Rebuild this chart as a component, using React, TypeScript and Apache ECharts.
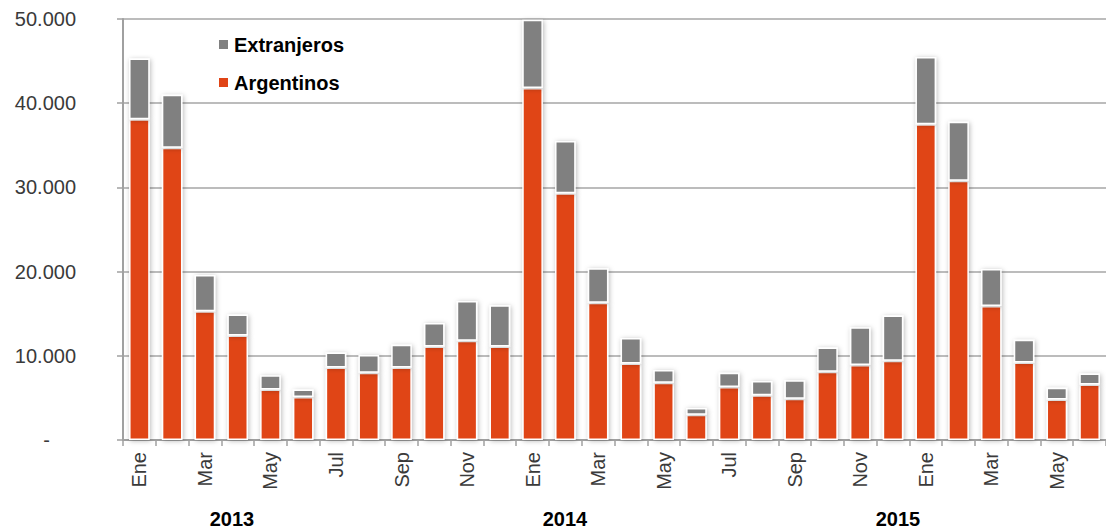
import React, { useEffect, useRef } from "react";
import * as echarts from "echarts";

const categories = [
  "2013-Ene", "2013-Feb", "2013-Mar", "2013-Abr", "2013-May", "2013-Jun",
  "2013-Jul", "2013-Ago", "2013-Sep", "2013-Oct", "2013-Nov", "2013-Dic",
  "2014-Ene", "2014-Feb", "2014-Mar", "2014-Abr", "2014-May", "2014-Jun",
  "2014-Jul", "2014-Ago", "2014-Sep", "2014-Oct", "2014-Nov", "2014-Dic",
  "2015-Ene", "2015-Feb", "2015-Mar", "2015-Abr", "2015-May", "2015-Jun",
];

const argentinos = [
  38100, 34700, 15300, 12400, 6000, 5100, 8600, 8000, 8600, 11100, 11800, 11100,
  41800, 29300, 16300, 9100, 6800, 3000, 6300, 5300, 4900, 8100, 8900, 9400,
  37500, 30800, 15900, 9200, 4800, 6600,
];

const extranjeros = [
  7200, 6300, 4300, 2500, 1700, 900, 1800, 2100, 2700, 2800, 4700, 4900,
  8100, 6200, 4100, 3000, 1500, 800, 1700, 1700, 2200, 2900, 4500, 5400,
  8000, 7000, 4400, 2700, 1400, 1300,
];

const yearLabels = ["2013", "2014", "2015"];
const yearLabelX = [232, 565, 898];

const RED = "#E04416";
const GRAY = "#808080";
const FONT = "Liberation Sans, Arial, sans-serif";

export default function App() {
  const ref = useRef<HTMLDivElement>(null);

  useEffect(() => {
    if (!ref.current) return;
    const chart = echarts.init(ref.current, null, { renderer: "svg" });
    const barStyle = (color: string) => ({
      color,
      borderColor: "#ffffff",
      borderWidth: 1.5,
      shadowBlur: 5,
      shadowColor: "rgba(0,0,0,0.28)",
      shadowOffsetX: 1,
      shadowOffsetY: 1,
    });
    chart.setOption({
      animation: false,
      backgroundColor: "#ffffff",
      textStyle: { fontFamily: FONT },
      grid: { left: 123, right: 0, top: 19, bottom: 91, containLabel: false },
      legend: {
        data: ["Extranjeros", "Argentinos"],
        orient: "vertical",
        left: 212,
        top: 29,
        itemWidth: 11,
        itemHeight: 11,
        itemGap: 17,
        icon: "rect",
        textStyle: {
          fontFamily: FONT,
          fontSize: 20,
          fontWeight: "bold",
          color: "#000000",
          lineHeight: 21,
        },
      },
      xAxis: [
        {
          type: "category",
          data: categories,
          boundaryGap: true,
          axisLine: { show: true, lineStyle: { color: "#a0a0a0", width: 2 } },
          axisTick: { show: true, length: 6, interval: 0, lineStyle: { color: "#a0a0a0", width: 1.5 } },
          axisLabel: {
            interval: 1,
            rotate: 90,
            margin: 12,
            fontFamily: FONT,
            fontSize: 20,
            color: "#3a3a3a",
            formatter: (v: string) => v.split("-")[1],
          },
        },
        {
          type: "category",
          data: categories,
          position: "bottom",
          axisLine: { show: false },
          axisTick: {
            show: true,
            inside: true,
            alignWithLabel: true,
            interval: 0,
            length: 4,
            lineStyle: { color: "#a0a0a0", width: 1.5 },
          },
          axisLabel: { show: false },
        },
      ],
      yAxis: {
        type: "value",
        min: 0,
        max: 50000,
        interval: 10000,
        axisLine: { show: true, lineStyle: { color: "#a0a0a0", width: 2 } },
        axisTick: { show: true, length: 6, lineStyle: { color: "#a0a0a0", width: 1.5 } },
        splitLine: { show: true, lineStyle: { color: "#a6a6a6", width: 1.5 } },
        axisLabel: {
          margin: 47,
          fontFamily: FONT,
          fontSize: 20,
          color: "#3a3a3a",
          formatter: (v: number) =>
            v === 0 ? "{d|-}" : v.toLocaleString("de-DE"),
          rich: {
            d: { fontFamily: FONT, fontSize: 20, color: "#3a3a3a", padding: [0, 26, 0, 0] },
          },
        },
      },
      series: [
        {
          name: "Argentinos",
          type: "bar",
          stack: "total",
          barWidth: "63%",
          data: argentinos,
          itemStyle: barStyle(RED),
        },
        {
          name: "Extranjeros",
          type: "bar",
          stack: "total",
          barWidth: "63%",
          data: extranjeros,
          itemStyle: barStyle(GRAY),
        },
      ],
      graphic: yearLabels.map((t, i) => ({
        type: "text",
        x: yearLabelX[i],
        y: 519,
        style: {
          text: t,
          fontFamily: FONT,
          fontSize: 20,
          fontWeight: "bold",
          fill: "#000000",
          align: "center",
          verticalAlign: "middle",
        },
      })),
    });
    return () => chart.dispose();
  }, []);

  return (
    <div
      ref={ref}
      style={{ position: "fixed", left: 0, top: 0, width: 1106, height: 531 }}
    />
  );
}
